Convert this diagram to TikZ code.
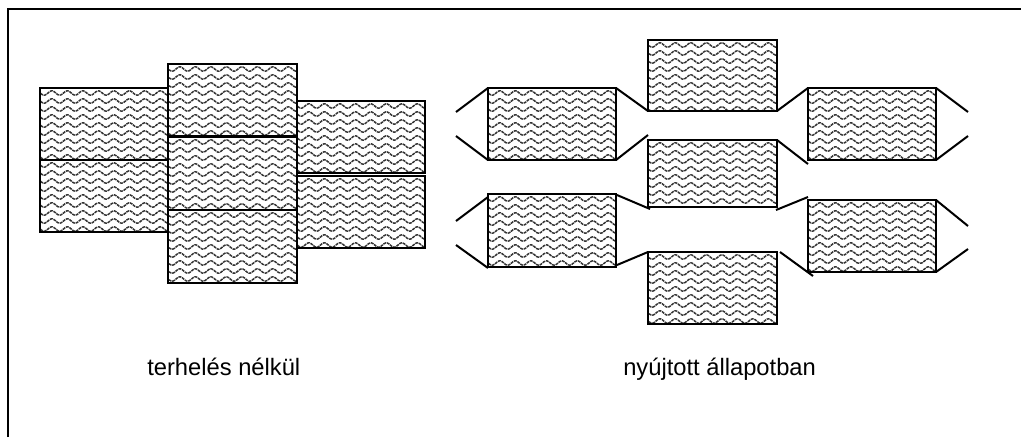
\documentclass[tikz,border=0pt]{standalone}
\usepackage{fontspec}
\setmainfont{Liberation Sans}
\tikzset{
  px/.style={x=0.75pt,y=-0.75pt},
  wavy/.style={draw=black!80,line width=1.1pt,dash pattern=on 2.2pt off 0.6pt},
  wavebox/.style={draw=black,line width=1.5pt,fill=white,inner sep=0pt,outer sep=0pt,
    path picture={
      \foreach \r in {0,...,9}{
        \draw[wavy] plot[domain=-70:70,samples=100] (\x,{\yorg+5+8*\r-2.2*sin(23.226*(\x-\xorg-8))});
      }
    }},
  link/.style={draw=black,line width=1.5pt},
  caption/.style={font=\fontsize{17.8pt}{21pt}\selectfont,inner sep=0pt,anchor=base west}
}
\newcommand{\wbox}[5]{%
  \pgfmathsetmacro{\cxx}{(#2+#4)/2}\pgfmathsetmacro{\cyy}{(#3+#5)/2}%
  \pgfmathsetmacro{\ww}{(#4-#2)*0.75}\pgfmathsetmacro{\hh}{(#5-#3)*0.75}%
  \pgfmathsetmacro{\xorg}{(#2-#4)/2}\pgfmathsetmacro{\yorg}{(#3-#5)/2}%
  \node[wavebox,minimum width=\ww pt,minimum height=\hh pt] (#1) at (\cxx,\cyy) {};}
\begin{document}
\begin{tikzpicture}[px]
\useasboundingbox (0,0) rectangle (1021,437);
\coordinate (fa) at (8,437);
\coordinate (fb) at (8,9);
\coordinate (fc) at (1021,9);
\draw[line width=1.5pt] (fa) -- (fb) -- (fc);
% left group
\wbox{a}{40}{88}{168}{160}
\wbox{b}{40}{160}{168}{232}
\wbox{c}{168}{64}{297}{136}
\wbox{d}{168}{137}{297}{210}
\wbox{e}{168}{210}{297}{283}
\wbox{f}{297}{101}{425}{173}
\wbox{g}{297}{176}{425}{248}
% right group
\wbox{r1}{488}{88}{616}{160}
\wbox{r2}{648}{40}{777}{111}
\wbox{r3}{648}{140}{777}{207}
\wbox{r4}{488}{194}{616}{267}
\wbox{r5}{648}{252}{777}{324}
\wbox{r6}{808}{88}{936}{160}
\wbox{r7}{808}{200}{936}{272}
% free ends and offset ends
\coordinate (l1) at (456,112);
\coordinate (l2) at (456,136);
\coordinate (m1) at (648,135);
\coordinate (l3) at (456,221);
\coordinate (l4) at (456,245);
\coordinate (s1) at (488,197);
\coordinate (s2) at (488,268);
\coordinate (n1) at (617,195);
\coordinate (n2) at (650,209);
\coordinate (n3) at (617,265);
\coordinate (o1) at (777,140);
\coordinate (o2) at (808,164);
\coordinate (o3) at (776,210);
\coordinate (o4) at (808,197);
\coordinate (o5) at (780,252);
\coordinate (o6) at (813,276);
\coordinate (q1) at (968,112);
\coordinate (q2) at (968,136);
\coordinate (q3) at (968,226);
\coordinate (q4) at (968,249);
\draw[link] (r1.north west) -- (l1);
\draw[link] (r1.south west) -- (l2);
\draw[link] (r1.north east) -- (r2.south west);
\draw[link] (r1.south east) -- (m1);
\draw[link] (r2.south east) -- (r6.north west);
\draw[link] (o1) -- (o2);
\draw[link] (s1) -- (l3);
\draw[link] (s2) -- (l4);
\draw[link] (n1) -- (n2);
\draw[link] (n3) -- (r5.north west);
\draw[link] (o3) -- (o4);
\draw[link] (o5) -- (o6);
\draw[link] (r6.north east) -- (q1);
\draw[link] (r6.south east) -- (q2);
\draw[link] (r7.north east) -- (q3);
\draw[link] (r7.south east) -- (q4);
\node[caption] (t1) at (147,375) {terhelés nélkül};
\node[caption] (t2) at (623,375) {nyújtott állapotban};
\end{tikzpicture}
\end{document}
